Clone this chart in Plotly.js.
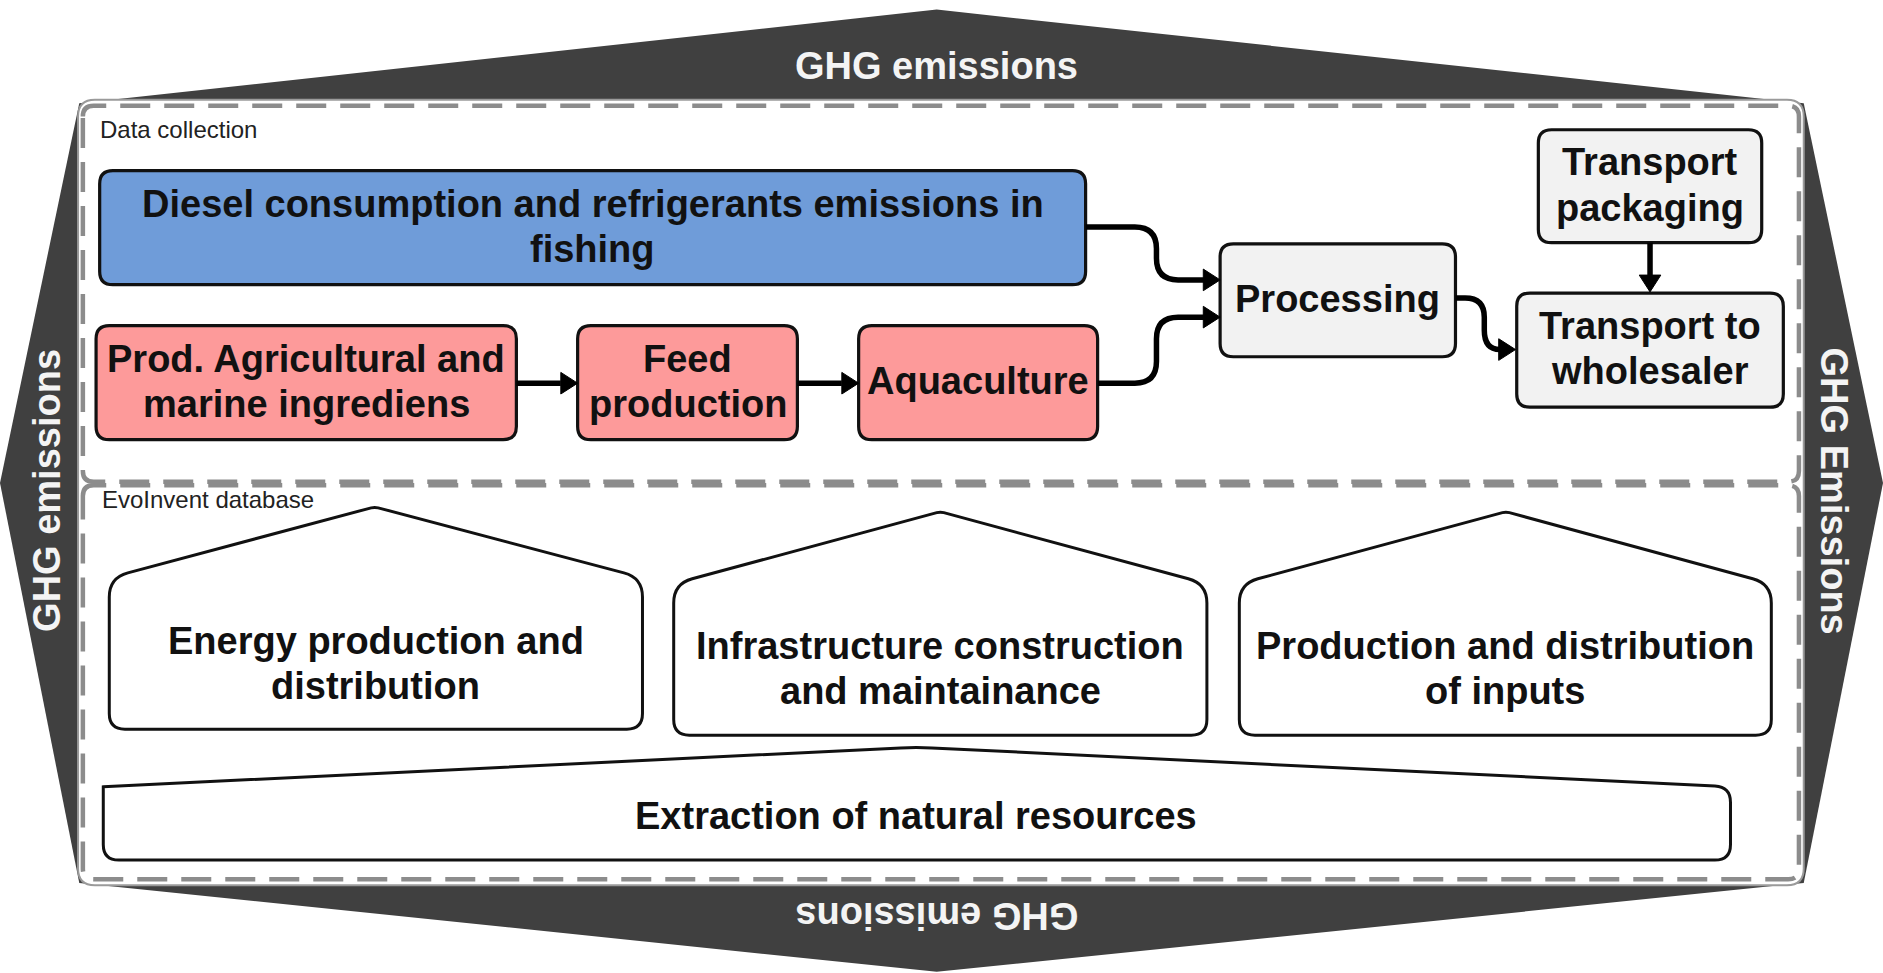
<!DOCTYPE html>
<html><head><meta charset="utf-8">
<script src="https://cdn.plot.ly/plotly-3.0.1.min.js"></script>
<style>html,body{margin:0;padding:0;background:#fff;overflow:hidden}</style>
</head><body><div id="chart" style="width:1883px;height:973px"></div>
<script>
// ---------------- content (labels) ----------------
const flowLabels = [
  "Diesel consumption and refrigerants emissions in<br>fishing",
  "Prod. Agricultural and<br>marine ingrediens",
  "Feed<br>production",
  "Aquaculture",
  "Processing",
  "Transport<br>packaging",
  "Transport to<br>wholesaler"
];
const flowGroups = ["fishing", "aqua", "aqua", "aqua", "post", "post", "post"];
const flowLinks = [[0, 4], [1, 2], [2, 3], [3, 4], [4, 6], [5, 6]];
const databaseLabels = [
  "Energy production and<br>distribution",
  "Infrastructure construction<br>and maintainance",
  "Production and distribution<br>of inputs"
];
const baseLabel = "Extraction of natural resources";
const emissionLabels = ["GHG emissions", "GHG Emissions", "GHG emissions", "GHG emissions"]; // top, right, bottom, left
const sectionLabels = ["Data collection", "EvoInvent database"];

// ---------------- styling / layout geometry (diagram units 1568 x 810) ----------------
const W = 1568, H = 810;
const groupFill = {fishing: "#6f9cd9", aqua: "#fd9a9a", post: "#f2f2f2"};
const FONT = "Liberation Sans, Arial, Helvetica, sans-serif";
const BIG = 38;
const LINE_GAP = 37.5;
const flowBoxes = [
  [83, 142, 904, 237],
  [80, 271, 430, 366],
  [481, 271, 664, 366],
  [715, 271, 914, 366],
  [1016, 203, 1212, 297],
  [1281, 108, 1467, 202],
  [1263, 244, 1485, 339]
];
// house: x0, x1, yShoulder, yBottom, xApex, yApex, textY
const houses = [
  [91, 535, 481, 607, 312, 422, 552],
  [561, 1005, 486, 612, 783, 426, 556.5],
  [1032, 1475, 486, 612, 1254, 426, 556.5]
];
const basePoly = [[86, 655], [763, 622], [1441, 655], [1441, 716], [86, 716]];
const baseText = [763, 679];
// connector routes for flowLinks (same order)
const linkRoutes = [
  {d: "M904,189 L945,189 Q963,189 963,207 L963,215 Q963,233 981,233 L1003,233", tip: [1016, 233], dir: "r"},
  {d: "M430,319 L467,319", tip: [481, 319], dir: "r"},
  {d: "M664,319 L701,319", tip: [715, 319], dir: "r"},
  {d: "M914,319 L945,319 Q963,319 963,301 L963,282 Q963,264 981,264 L1003,264", tip: [1016, 264], dir: "r"},
  {d: "M1212,248 L1220,248 Q1236,248 1236,264 L1236,275 Q1236,291 1249,291", tip: [1262, 291], dir: "r"},
  {d: "M1374,202 L1374,230", tip: [1374, 243], dir: "d"}
];

function f(v) { return v.toFixed(2); }
function roundPoly(pts, radii) {
  const n = pts.length;
  let d = "";
  for (let i = 0; i < n; i++) {
    const P = pts[i], Pp = pts[(i - 1 + n) % n], Pn = pts[(i + 1) % n];
    const r = Array.isArray(radii) ? radii[i] : radii;
    const cmd = i === 0 ? "M" : "L";
    if (!r) { d += `${cmd}${f(P[0])},${f(P[1])} `; continue; }
    const l1 = Math.hypot(Pp[0] - P[0], Pp[1] - P[1]);
    const l2 = Math.hypot(Pn[0] - P[0], Pn[1] - P[1]);
    const A = [P[0] + r * (Pp[0] - P[0]) / l1, P[1] + r * (Pp[1] - P[1]) / l1];
    const B = [P[0] + r * (Pn[0] - P[0]) / l2, P[1] + r * (Pn[1] - P[1]) / l2];
    d += `${cmd}${f(A[0])},${f(A[1])} Q${f(P[0])},${f(P[1])} ${f(B[0])},${f(B[1])} `;
  }
  return d + "Z";
}
function rrect(x0, y0, x1, y1, r) {
  return roundPoly([[x0, y0], [x1, y0], [x1, y1], [x0, y1]], r);
}
function headPath(tip, dir) {
  const L = 14, h = 9;
  const [x, y] = tip;
  if (dir === "r") return `M${x - L},${y - h} L${x},${y} L${x - L},${y + h} Z`;
  return `M${x - h},${y - L} L${x},${y} L${x + h},${y - L} Z`;
}

const shapes = [];
const pathShape = (d, o) => Object.assign({type: "path", xref: "x", yref: "y", path: d, layer: "above"}, o);

// dark emission band
shapes.push(pathShape(roundPoly([[66, 86], [780, 8], [1502, 86], [1568, 402], [1502, 735], [780, 809], [66, 735], [0, 402]], 0),
  {fillcolor: "#404040", line: {width: 0}}));
// white frame
shapes.push(pathShape(rrect(65, 83, 1502, 737, 14), {fillcolor: "#ffffff", line: {color: "#9a9a9a", width: 2}}));
// dashed sections
shapes.push(pathShape(rrect(69, 88, 1498, 401, 9), {fillcolor: "rgba(0,0,0,0)", line: {color: "#8c8c8c", width: 4.5, dash: "30px,14px"}}));
shapes.push(pathShape(rrect(69, 404, 1498, 732, 9), {fillcolor: "rgba(0,0,0,0)", line: {color: "#8c8c8c", width: 4.5, dash: "30px,14px"}}));

// flow boxes
flowBoxes.forEach((b, i) => {
  shapes.push(pathShape(rrect(b[0], b[1], b[2], b[3], 11), {fillcolor: groupFill[flowGroups[i]], line: {color: "#111111", width: 3.2}}));
});
// houses
houses.forEach(h => {
  const pts = [[h[4], h[5]], [h[1], h[2]], [h[1], h[3]], [h[0], h[3]], [h[0], h[2]]];
  shapes.push(pathShape(roundPoly(pts, [3, 16, 13, 13, 16]), {fillcolor: "#ffffff", line: {color: "#111111", width: 3}}));
});
// base
shapes.push(pathShape(roundPoly(basePoly, [0, 13, 13, 13, 13]), {fillcolor: "#ffffff", line: {color: "#111111", width: 3}}));
// connectors
flowLinks.forEach((lk, i) => {
  const r = linkRoutes[i];
  shapes.push(pathShape(r.d, {line: {color: "#000000", width: 5.5}, fillcolor: "rgba(0,0,0,0)"}));
  shapes.push(pathShape(headPath(r.tip, r.dir), {fillcolor: "#000000", line: {color: "#000000", width: 1}}));
});

// annotations
const annotations = [];
function addLines(text, cx, cy, opts) {
  const lines = text.split("<br>");
  const n = lines.length;
  lines.forEach((t, k) => {
    annotations.push(Object.assign({
      x: cx, y: cy + (k - (n - 1) / 2) * LINE_GAP, xref: "x", yref: "y", text: t, showarrow: false,
      xanchor: "center", yanchor: "middle",
      font: {family: FONT, size: BIG, color: "#111111", weight: 700}
    }, opts || {}));
  });
}
flowLabels.forEach((lab, i) => {
  const b = flowBoxes[i];
  addLines(lab, (b[0] + b[2]) / 2, (b[1] + b[3]) / 2 - 1);
});
databaseLabels.forEach((lab, i) => {
  const h = houses[i];
  addLines(lab, (h[0] + h[1]) / 2, h[6]);
});
addLines(baseLabel, baseText[0], baseText[1]);

const emisPos = [[780, 55, 0], [1527, 409, 90], [780, 762, 180], [39, 408, -90]];
emissionLabels.forEach((t, i) => {
  const p = emisPos[i];
  annotations.push({x: p[0], y: p[1], xref: "x", yref: "y", text: t, showarrow: false, textangle: p[2],
    xanchor: "center", yanchor: "middle", font: {family: FONT, size: BIG, color: "#f4f4f4", weight: 700}});
});
const secPos = [[82, 108], [83, 416]];
sectionLabels.forEach((t, i) => {
  annotations.push({x: secPos[i][0], y: secPos[i][1], xref: "x", yref: "y", text: t, showarrow: false,
    xanchor: "left", yanchor: "middle", font: {family: FONT, size: 24, color: "#222222"}});
});

const layout = {
  width: 1883, height: 973,
  margin: {l: 0, r: 0, t: 0, b: 0, pad: 0},
  paper_bgcolor: "#ffffff", plot_bgcolor: "#ffffff",
  showlegend: false,
  xaxis: {range: [0, W], visible: false, fixedrange: true},
  yaxis: {range: [H, 0], visible: false, fixedrange: true},
  shapes: shapes,
  annotations: annotations
};
Plotly.newPlot("chart", [], layout, {staticPlot: true, displayModeBar: false});
</script></body></html>
